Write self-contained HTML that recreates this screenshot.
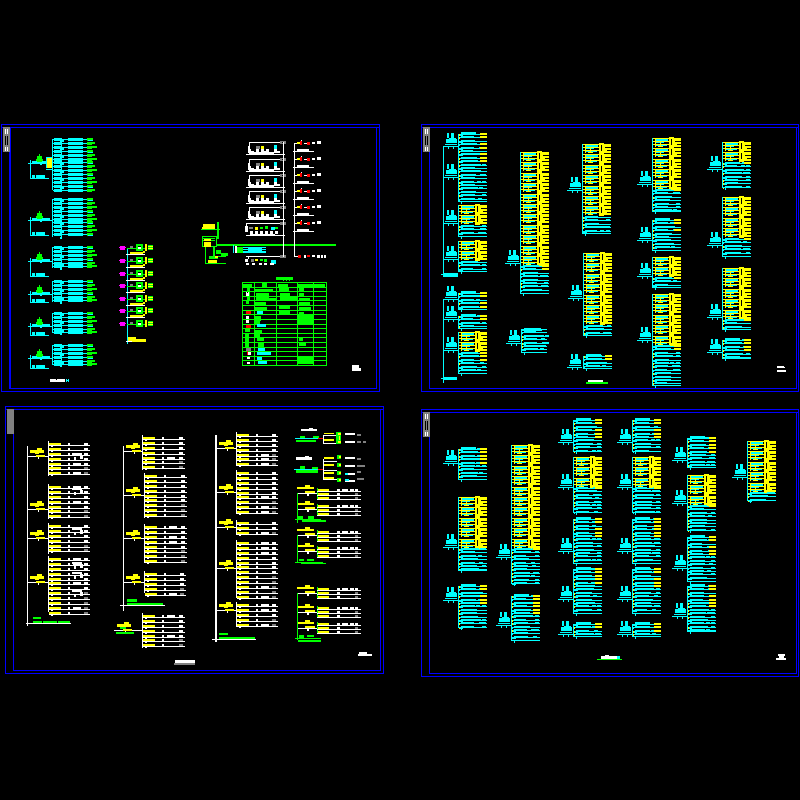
<!DOCTYPE html>
<html>
<head>
<meta charset="utf-8">
<title>Diagram</title>
<style>
html,body{margin:0;padding:0;background:#000;width:800px;height:800px;overflow:hidden}
svg{display:block}
</style>
</head>
<body>
<svg id="s" xmlns="http://www.w3.org/2000/svg" width="800" height="800" viewBox="0 0 800 800" shape-rendering="crispEdges"></svg>
<script>
var C='#00ffff',Y='#ffff00',G='#00ff00',W='#ffffff',M='#ff00ff',B='#0000ff',R='#ff0000',K='#808080',N='#000000';
var out=[],seed=7;
function rnd(){seed=(seed*16807)%2147483647;return seed/2147483647}
function r(x,y,w,h,c){out.push('<rect x="'+x+'" y="'+y+'" width="'+w+'" height="'+h+'" fill="'+c+'"/>')}
function hl(x1,x2,y,c){r(x1,y,x2-x1,1,c)}
function vl(x,y1,y2,c){r(x,y1,1,y2-y1,c)}
function box(x,y,w,h,c){hl(x,x+w,y,c);hl(x,x+w,y+h,c);vl(x,y,y+h,c);vl(x+w,y,y+h+1,c)}
function strip(x,y,solid){
  r(x,y,7,25,K);
  if(!solid){r(x+2,y+2,1,5,W);r(x+4,y+2,1,5,W);r(x+2,y+9,1,9,N);r(x+4,y+9,1,9,N);r(x+2,y+20,1,4,W);r(x+4,y+20,1,4,W);}
}
/* cyan rows */
function cyanRows(x,y1,y2,w,tail){
  vl(x,y1,y2,C);
  var i=0,h=y2-y1;
  for(var y=y1;y<y2-1;y+=3.4,i++){
    var yy=Math.round(y);
    hl(x+1,x+w,yy,C);
    var fr=(y-y1)/h;
    r(x+3,yy-1,Math.round(12+rnd()*6),2,C);
    if(rnd()<.5) r(x+18+Math.round(rnd()*4),yy-1,4,2,C);
    if(!tail||fr>=tail){ if(rnd()<.5) r(x+24,yy-1,4,2,C);}
    r(x+1,yy,1,2,rnd()<.65?Y:C);
    if(i%2==0) r(x+2,yy+1,3,1,C);
    if(tail&&fr<tail){ if(i%3!=2||rnd()<.5) r(x+22,yy-1,w-22,2,Y);}
  }
  hl(x+1,x+w,y2-1,C);
  r(x+3,y2,1,2,C);
}
function group(x,y,w){
  vl(x,y,y+11,C);
  r(x+1,y,16,1,Y);r(x+3,y+1,13,2,C);
  r(x+1,y+3,16,1,Y);r(x+3,y+4,9,1,C);
  r(x+1,y+6,16,1,Y);r(x+3,y+7,12,1,C);r(x+6,y+8,5,1,Y);
  r(x+3,y,1,9,Y);r(x+8,y+3,1,5,Y);
  r(x+17,y-1,5,11,Y);r(x+19,y+1,1,6,N);
  r(x+22,y,w-22,9,Y);
  hl(x+23,x+w,y+3,N);hl(x+25,x+w,y+6,N);
}
function pblock(x,y1,y2,n,tailFrac,w){
  w=w||29;
  var yy=y1;
  for(var i=0;i<n;i++){group(x,Math.round(yy)+1,w);yy+=10.4;}
  var st=Math.round(yy)+1;
  if(n==0){r(x+3,y1-1,15,3,C);}
  cyanRows(x,st,y2,w,tailFrac);
}
function icon(x,y){
  hl(x,x+15,y,C);
  r(x+2,y-2,12,1,C);
  r(x+3,y-7,11,4,C);
  r(x+6,y-8,7,1,C);
  r(x+4,y-13,2,5,C);
  r(x+8,y-13,3,5,C);
  r(x+5,y+1,1,2,C);
  r(x+10,y+1,1,2,C);
}
function feedBlocks(x,list){
  list.forEach(function(b){
    pblock(x,b[0],b[1],b[2],b[3]);
    icon(x-15,b[4]);
  });
}
/* Frames */
function fr(ox,oy,ox2,oy2,il,it,ir,ib,th){
  box(ox,oy,ox2-ox,oy2-oy,B);
  hl(ox,ox2,it,B);
  box(il,it,ir-il,ib-it,B);
  if(th){r(il-1,it,2,ib-it+1,B);}
}
fr(1,124,379,391,10,127,376,388,true);
fr(421,124,798,391,429,127,796,388,false);
fr(5,406,383,673,13,409,380,670,false);
fr(421,409,798,676,429,412,796,673,false);
strip(3,127);strip(423,127);strip(7,409,true);strip(423,412);

/* ---- Panel 1 ---- */
function p1Block(y1,y2){
  vl(52,y1,y2,C);
  for(var y=y1,i=0;y<y2;y+=3.9,i++){
    var yy=Math.round(y);
    hl(53,88,yy,C);
    r(54,yy-1,8,3,C);
    r(68,yy-1,15,3,C);
    if(i%2==0) r(60,yy+1,4,2,C);
    r(87,yy-1,6+(i%3)*2,2,G);
    r(87,yy+1,5,1,G);
    if(i%3==0) r(88,yy+1,5,1,C);
  }
  vl(61,y1-1,y2+2,C);
  r(60,y2,2,2,C);
}
function p1Feed(yh,yb,blob){
  hl(28,52,yh,C);
  r(32,yh-2,18,2,C);
  r(40,yh,2,2,C);
  vl(30,yh-3,yb,C);
  hl(30,49,yb,C);
  r(32,yb-3,3,3,C);r(36,yb-3,9,3,C);
  r(37,blob-3,5,6,G);r(39,blob-5,1,2,G);r(36,blob,7,2,G);
}
[[139,190],[199,237],[247,268],[281,302],[313,333],[345,365]].forEach(function(a){p1Block(a[0],a[1])});
p1Feed(163,178,159);p1Feed(220,235,216);p1Feed(261,276,257);p1Feed(294,302,290);p1Feed(326,335,322);p1Feed(358,368,354);
r(46,158,6,10,Y);hl(46,52,157,C);hl(46,52,169,C);vl(46,158,168,C);
r(50,379,15,3,W);r(56,379,1,1,N);r(66,379,3,3,C);r(67,379,1,1,N);r(67,381,1,1,N);

/* Middle column */
vl(127,248,344,C);
[247,260,273,285,298,310,323].forEach(function(y,i){
  r(120,y-1,5,4,M);r(119,y,7,1,M);
  hl(127,136,y+1,G);
  r(130,y-1,3,2,K);r(130,y,2,1,K);
  r(136,y-3,7,7,G);r(138,y-1,3,3,W);r(138,y-1,3,1,N);
  hl(143,146,y+1,G);
  r(145,y-3,2,7,Y);r(148,y-2,5,1,G);r(148,y-1,5,1,Y);r(148,y,5,1,G);r(148,y+1,5,1,Y);r(148,y+2,5,1,G);
  if(i<6){hl(126,145,y+7,W);r(130,y+5,13,2,Y);r(143,y+4,2,2,Y);}
});
r(128,337,4,5,Y);r(131,337,5,2,Y);r(132,339,14,3,Y);hl(126,132,341,W);

/* Left-of-bus equipment */
r(217,222,2,17,G);
r(203,224,12,5,Y);r(202,227,2,2,Y);hl(201,220,229,G);
box(202,236,14,10,G);hl(203,215,238,G);r(203,240,12,1,G);r(204,239,7,2,Y);r(204,242,7,5,Y);
vl(205,247,263,G);hl(205,226,263,G);
r(208,260,9,3,Y);r(209,256,17,1,G);r(209,257,9,2,G);
r(213,247,2,9,G);r(216,250,5,4,G);r(221,253,2,3,G);r(223,253,5,3,G);
r(215,256,3,2,Y);
r(216,244,120,2,G);
r(233,245,1,8,C);r(235,246,2,7,W);
r(237,247,6,6,G);
[247,249,251].forEach(function(y){hl(243,266,y,C);r(248,y+1,14,1,C)});
hl(243,266,252,C);

/* floors */
function floor(y,yb){
  hl(249,283,y,W);vl(249,y,y+8,W);
  r(280,y-1,6,3,K);r(282,y,2,1,N);
  [248,256,261,266,274].forEach(function(x,i){
    r(x,y+7,3,4,W);
    if(i%2==0) r(x+3,y+9,3,2,W);
  });
  r(248,y+4,2,3,W);
  r(256,y+4,4,3,K);
  r(261,y+4,3,3,Y);
  r(274,y+3,3,4,C);
  r(249,yb-2,25,2,W);
  hl(246,285,yb,W);
}
[[142,154],[159,171],[175,187],[191,203],[207,219]].forEach(function(a){floor(a[0],a[1])});
(function(){var y=223;hl(246,283,y,W);vl(246,y,y+5,W);r(245,y+3,3,6,W);r(280,y-1,6,3,K);
 r(249,y+4,4,2,K);r(255,y+4,3,3,Y);r(260,y+4,3,2,G);r(265,y+3,3,3,G);r(271,y+4,4,3,C);r(275,y+4,3,2,G);
 for(var i=0;i<6;i++){r(250+i*5,y+8,3,3,W)}
 hl(246,285,235,W);r(250,234,25,1,W);})();
(function(){var y=256;hl(246,283,y,W);r(248,y+1,1,2,W);r(280,y-1,6,3,K);
 r(245,y+3,3,3,W);r(246,y+7,3,2,W);r(251,y+3,3,3,K);r(255,y+3,3,2,Y);r(260,y+3,3,2,G);r(264,y+3,3,3,G);
 r(271,y+4,5,4,C);r(252,y+7,3,2,W);r(259,y+7,3,2,W);r(264,y+7,3,2,W);r(270,y+7,4,2,W);})();
vl(283,142,257,W);

/* second riser */
vl(294,143,257,W);
[143,159,175,191,207,223].forEach(function(y){
  hl(295,300,y,W);
  r(297,y-1,3,2,Y);r(300,y-2,2,4,R);r(301,y-3,1,1,W);
  r(304,y,3,1,W);r(307,y-1,3,3,R);r(312,y-1,3,2,W);r(317,y-2,4,3,W);
  hl(293,314,y+8,W);r(297,y+6,12,2,W);
});
(function(){var y=256;hl(294,300,y,W);r(298,y-1,3,3,R);r(304,y-1,2,3,W);r(307,y-1,3,2,R);r(312,y-1,3,2,W);r(317,y-1,3,3,W);r(321,y-1,2,3,W);r(324,y-1,2,3,W);})();

/* table */
r(276,277,17,3,G);r(283,280,1,1,G);r(286,280,1,1,G);r(289,280,1,1,G);
(function(){
  var x1=242,x2=326,t=282,b=365;
  for(var i=0;i<=18;i++){var y=Math.round(t+i*(b-t)/18);r(x1,y,x2-x1+1,1,G)}
  [242,254,276,297,313,326].forEach(function(x){vl(x,t,b+1,G)});
  function z(x,y,w,h,c){r(Math.round(235+x/3),Math.round(275+y/3),Math.max(1,Math.round(w/3)),Math.max(1,Math.round(h/3)),c||G)}
  z(24,26,28,12);z(36,38,9,38);z(81,24,14,14);z(60,42,54,8);z(63,54,40,14);z(63,68,62,8);z(130,28,30,8);z(132,38,30,10);z(134,54,30,22);z(165,65,22,10);
  z(190,28,80,8);z(192,38,16,12);z(192,54,16,12);z(192,70,32,8);z(60,82,32,12);z(60,96,36,8);z(132,92,32,10);z(132,108,32,10);
  z(192,82,32,10);z(192,96,36,8);z(192,110,16,8);z(190,118,44,16);z(190,132,44,14);
  z(58,122,20,14);z(60,138,14,8);z(60,165,20,8);
  z(30,178,12,40);z(60,178,14,8);z(66,190,22,10);z(70,204,18,12);z(192,188,12,10);z(192,204,20,10);
  z(186,246,48,22);
  r(246,292,3,4,W);r(247,292,1,1,N);r(246,301,3,3,G);
  z(32,108,16,10,R);z(34,122,10,8,W);z(34,136,8,8,W);z(32,150,14,8,R);z(30,160,14,12,G);
  z(66,108,18,10,C);z(66,146,26,10,C);z(32,218,14,10,K);z(36,230,12,10,W);z(36,246,8,6,W);z(36,260,8,6,W);
  z(70,218,22,10,C);z(66,232,42,10,C);z(66,246,14,10,C);z(68,258,26,10,C);
  z(36,228,2,12,R);
})();
r(352,365,7,6,W);r(359,368,2,3,W);

/* ---- Panel 2 ---- */
vl(443,146,273,C);vl(443,299,383,C);
feedBlocks(458,[
 [133,202,0,.45,146],
 [204,237,2,0,177],
 [240,272,2,0,223],
 [292,310,0,.8,259],
 [315,329,0,.3,299],
 [331,374,2,.4,319]
]);
icon(443,350);
r(443,273,15,4,C);r(441,274,3,1,C);r(444,377,13,3,C);r(441,378,4,1,C);
pblock(520,151,294,11,.2);icon(505,263);
(function(){cyanRows(521,329,353,26,0);icon(506,343);r(525,329,17,2,C);})();
pblock(582,143,234,7,0);icon(567,190);
pblock(583,252,336,7,0);icon(568,298);
pblock(583,355,369,0,.4);icon(567,367);
pblock(652,137,212,5,.1);icon(637,184);
pblock(652,219,251,0,.35);icon(637,240);
pblock(652,256,288,2,.1);icon(637,276);
pblock(652,293,386,5,.1);icon(637,340);
pblock(722,141,188,2,.05);icon(707,169);
pblock(722,196,257,4,.05);icon(707,245);
pblock(722,267,330,5,.05);icon(707,317);
pblock(722,339,359,0,.7);icon(707,352);
r(588,380,15,2,W);r(586,382,22,2,G);
r(777,366,7,2,W);r(784,367,1,1,W);r(777,370,9,2,W);

/* ---- Panel 4 ---- */
feedBlocks(458,[
 [448,480,0,.5,463],
 [496,571,5,0,547],
 [585,628,0,.45,600]
]);
pblock(511,444,584,10,.08);icon(496,557);
pblock(511,595,641,0,.45);icon(496,625);
[573,632].forEach(function(x){
  pblock(x,419,452,0,.55);icon(x-15,442);
  pblock(x,456,513,3,.05);icon(x-15,487);
  pblock(x,518,564,0,.45);icon(x-15,551);
  pblock(x,568,614,0,.45);icon(x-15,599);
  pblock(x,623,637,0,.7);icon(x-15,634);
});
pblock(687,437,468,0,.5);icon(672,460);
pblock(687,474,531,3,.05);icon(672,503);
pblock(687,536,582,0,.45);icon(672,568);
pblock(687,585,632,0,.45);icon(672,616);
pblock(747,440,501,5,0);icon(732,477);
hl(597,622,659,G);r(601,656,19,3,W);r(605,655,4,1,W);r(617,656,3,3,C);
r(778,654,7,2,W);r(779,656,5,2,W);r(776,658,10,2,W);

/* ---- Panel 3 ---- */
function wblock(x,y1,y2,w){
  vl(x,y1,y2,W);
  for(var y=y1+2;y<y2;y+=4.9){
    var yy=Math.round(y);
    hl(x+1,x+w,yy+2,W);
    r(x+1,yy,12,2,Y);
    r(x+3,yy+3,2,1,W);
    r(x+20,yy,2,2,W);
    if(rnd()<.25) r(x+25,yy,8,2,W);
    var g=(y>y1+(y2-y1)*.62);
    r(x+w-6,yy,4,2,g?K:W);
  }
}
function wfeed(x1,x2,y){
  hl(x1,x2,y,W);
  r(x1+3,y-6,14,3,Y);r(x1+10,y-8,5,3,Y);r(x1+8,y-3,4,1,Y);
  r(x1+9,y-1,9,2,Y);
  r(x1+11,y+1,1,2,W);
}
vl(27,446,626,W);
[[441,476],[484,519],[523,554],[556,612]].forEach(function(a){wblock(48,a[0],a[1],42)});
[456,509,538,582].forEach(function(y){wfeed(27,48,y)});
[455,490,530,564,574,592].forEach(function(y){r(72,y-2,10,2,W);r(80,y,3,4,W);r(74,y+2,2,3,W)});
r(33,617,8,2,G);r(33,621,37,2,G);r(42,621,1,2,N);r(57,621,1,2,N);hl(26,71,623,W);
vl(123,446,611,W);
wblock(142,435,470,43);wblock(144,473,518,43);wblock(144,524,563,43);wblock(144,571,593,42);wblock(142,613,648,43);
wfeed(123,142,451);wfeed(123,144,495);wfeed(123,144,538);wfeed(123,144,582);
r(127,599,10,3,G);r(127,603,36,2,G);hl(120,165,605,W);
wfeed(114,142,630);r(120,627,6,2,G);r(116,632,18,2,G);
r(175,660,20,3,W);r(174,663,21,2,K);
r(215,435,2,207,W);
wblock(236,432,466,42);wblock(236,470,514,42);wblock(236,520,535,42);wblock(236,540,598,42);wblock(236,602,627,42);
[448,492,527,568,610].forEach(function(y){wfeed(216,236,y)});
r(219,633,9,2,G);r(219,637,36,2,G);hl(212,256,639,W);

/* right column */
function gblock(x,y,n){
  vl(x,y,y+(n-1)*4+4,G);
  for(var i=0;i<n;i++){
    var yy=y+i*4+2;
    hl(x,x+44,yy+1,W);r(x+1,yy-1,11,2,Y);r(x+20,yy-1,3,2,W);r(x+38,yy-1,3,2,i==0?W:K);
    if(i==0){r(x+25,yy-1,6,2,W);r(x+33,yy-1,4,2,W)}
  }
}
function gfeed(y){r(297,y-6,17,2,Y);r(305,y-8,5,3,Y);r(305,y-2,10,2,Y);hl(297,317,y,W);r(307,y+1,2,2,W)}
r(301,429,16,2,W);r(309,428,4,1,W);
r(295,438,23,1,C);r(300,436,5,2,G);r(313,436,6,2,G);r(296,440,20,2,G);r(318,438,5,1,R);
vl(323,435,443,W);hl(323,337,435,W);r(324,433,10,1,Y);hl(323,337,443,W);r(324,439,10,2,Y);
r(336,432,5,12,G);r(338,433,3,2,Y);r(338,441,3,2,Y);r(339,436,1,4,Y);
r(345,433,10,2,W);r(345,441,10,2,W);r(357,434,4,2,K);r(357,441,4,2,K);r(363,441,3,2,K);
r(296,457,16,3,W);r(305,456,4,1,W);
r(294,469,24,1,C);r(300,466,5,3,G);r(312,467,6,2,G);r(296,470,22,3,G);r(318,469,5,1,R);
vl(323,459,480,W);hl(323,337,461,W);hl(323,337,470,W);hl(323,337,479,W);
[457,464,472,477].forEach(function(y){r(324,y,10,2,Y)});
[455,463,471,478].forEach(function(y){r(337,y,4,4,G);r(339,y+1,2,2,Y);r(345,y+2,10,2,W)});
r(357,458,4,2,K);r(357,465,8,2,K);r(357,471,4,2,K);r(357,478,7,2,K);r(345,473,3,2,C);r(345,479,4,2,C);
gblock(317,488,3);gblock(317,504,3);
gfeed(493);gfeed(509);vl(297,493,523,G);r(295,519,26,1,G);r(298,516,5,3,G);r(308,516,6,3,G);r(302,520,24,2,G);
gblock(317,530,3);gblock(317,546,3);
gfeed(535);gfeed(551);vl(297,535,563,G);r(295,562,28,1,G);r(299,559,5,2,G);r(307,559,7,2,G);r(301,563,25,1,G);
gblock(317,587,3);gblock(317,606,3);gblock(317,622,3);
gfeed(593);gfeed(612);gfeed(628);vl(297,593,640,G);r(295,638,26,1,G);r(299,635,5,3,G);r(307,635,7,2,G);r(298,640,23,2,G);
r(359,652,8,2,W);r(358,654,14,2,W);

document.getElementById('s').innerHTML=out.join('');
</script>
</body>
</html>
